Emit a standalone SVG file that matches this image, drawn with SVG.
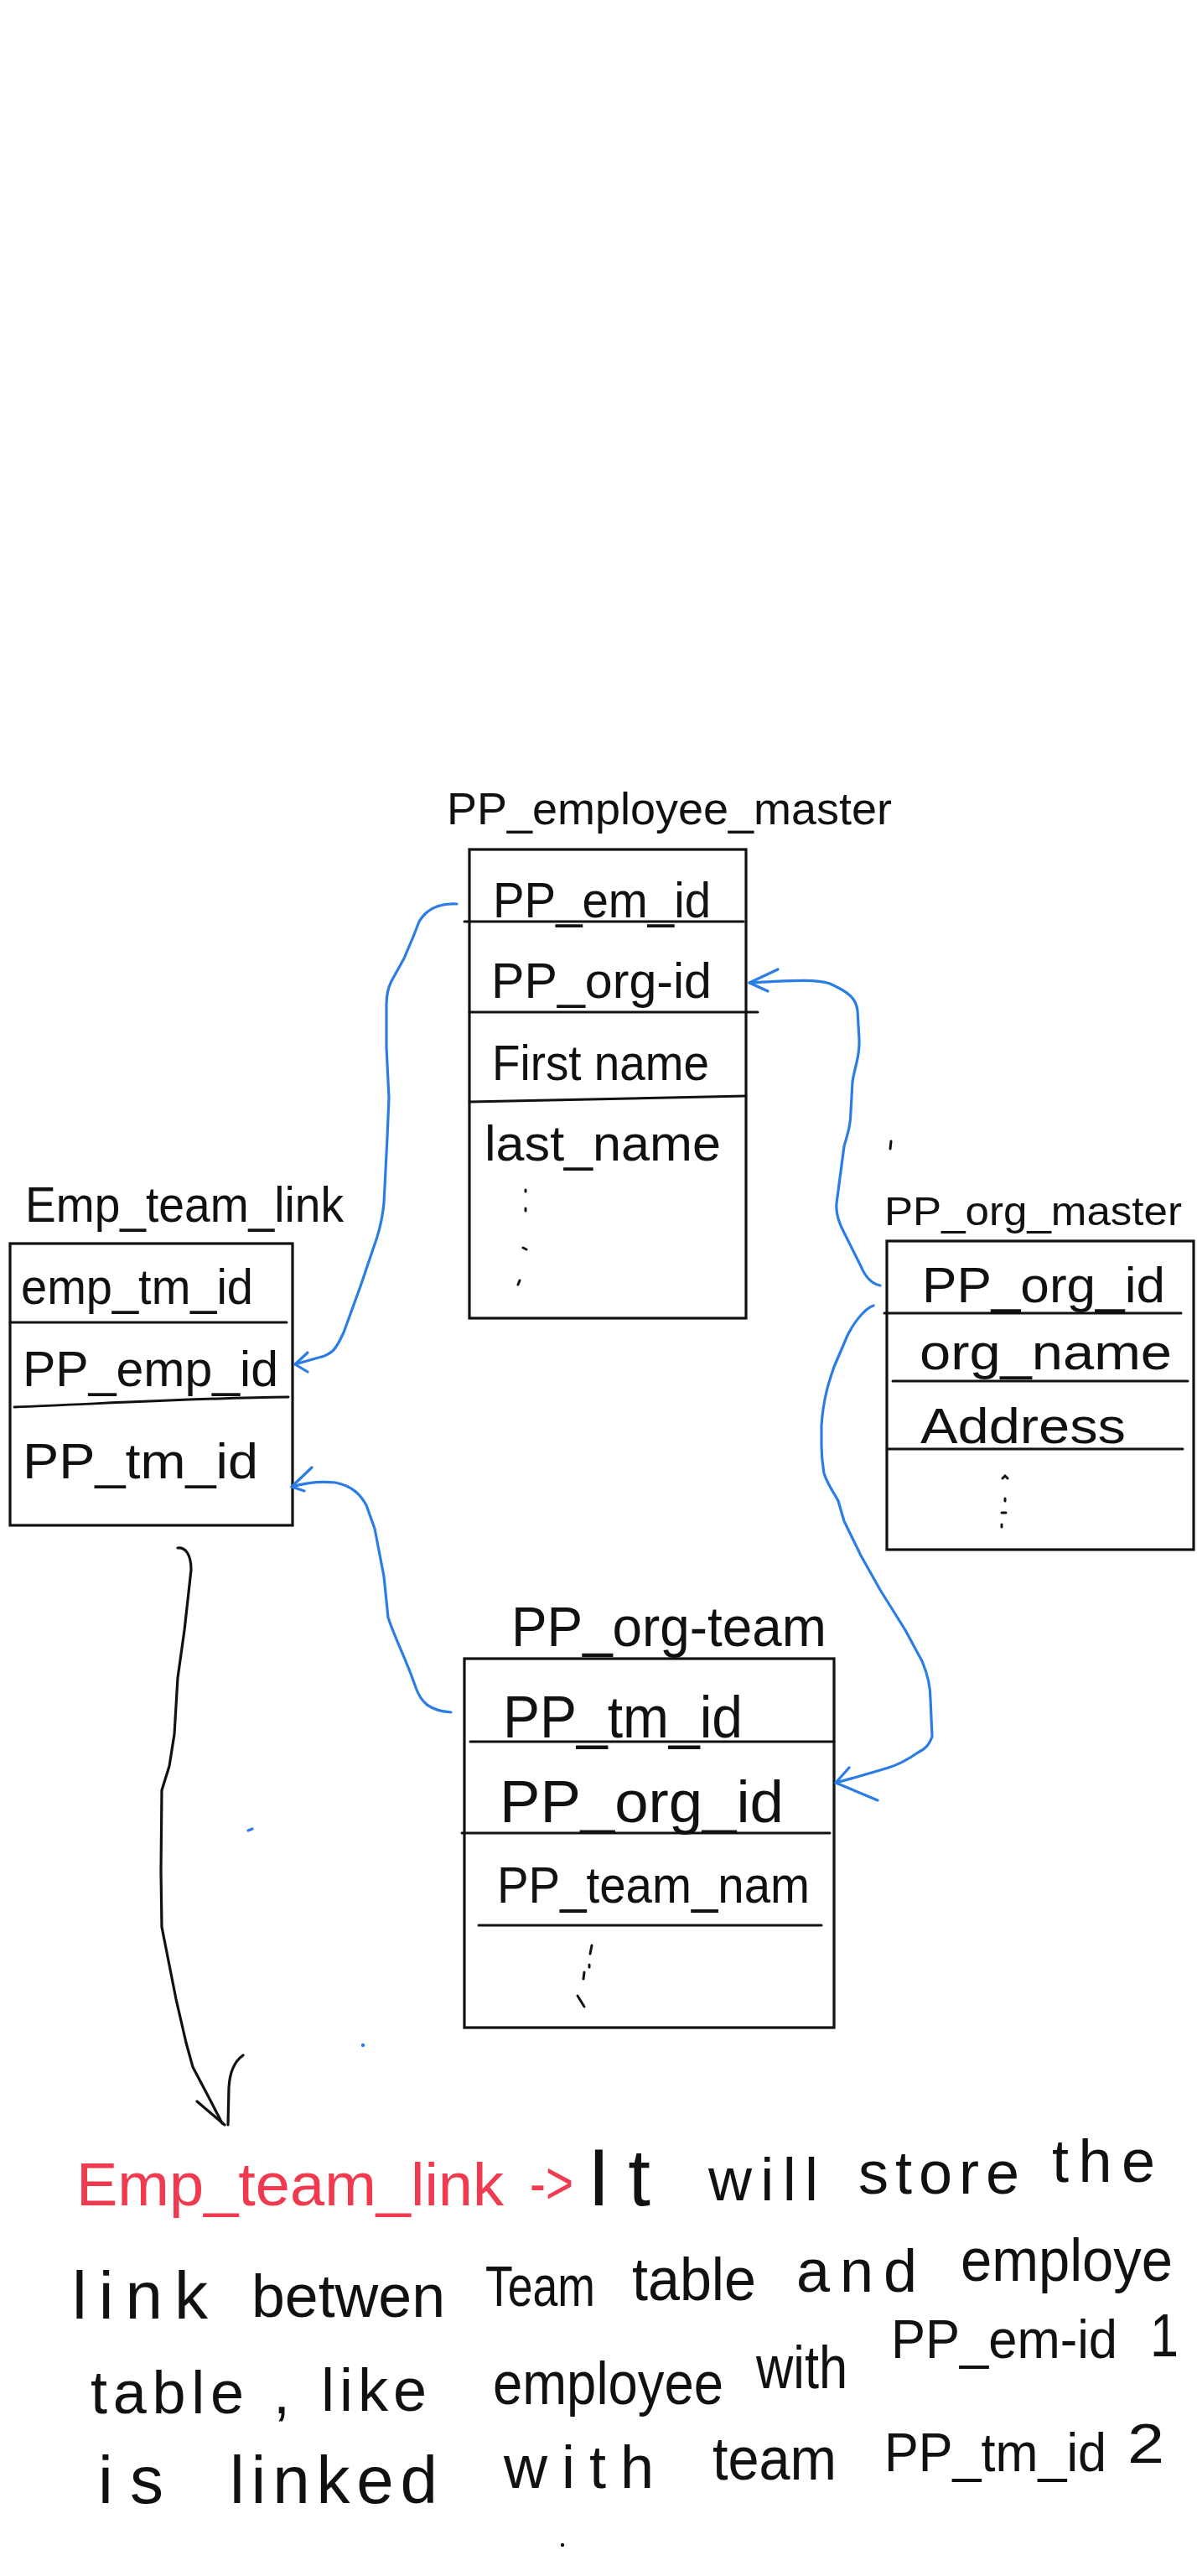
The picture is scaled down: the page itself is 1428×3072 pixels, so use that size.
<svg xmlns="http://www.w3.org/2000/svg" width="1428" height="3072" viewBox="0 0 1428 3072">
<style>
.bg{fill:#ffffff}
.box{fill:none;stroke:#111;stroke-width:3.2;stroke-linejoin:miter}
.sep{fill:none;stroke:#111;stroke-width:3;stroke-linecap:round}
.t{font-family:"Liberation Sans",Arial,sans-serif;fill:#111;font-weight:normal}
.fld{font-size:60px}
.big{font-size:70px}
.par{font-size:72px}
.red{fill:#f03a4f}
.dot{fill:none;stroke:#111;stroke-width:3;stroke-linecap:round}
.blue{fill:none;stroke:#2b7de6;stroke-width:3.2;stroke-linecap:round;stroke-linejoin:round}
.ink{fill:none;stroke:#111;stroke-width:3.2;stroke-linecap:round;stroke-linejoin:round}
</style>
<rect class="bg" x="0" y="0" width="1428" height="3072"/>

<g id="pp_employee_master">
  <text class="t" font-size="54" x="533" y="983" textLength="531" lengthAdjust="spacingAndGlyphs">PP_employee_master</text>
  <rect class="box" x="560" y="1013" width="330" height="559"/>
  <path class="sep" d="M554,1099 L887,1099"/>
  <path class="sep" d="M560,1207 L904,1207"/>
  <path class="sep" d="M560,1314 C700,1311 800,1308 890,1307"/>
  <text class="t fld" x="588" y="1094" textLength="260" lengthAdjust="spacingAndGlyphs">PP_em_id</text>
  <text class="t fld" x="586" y="1190" textLength="263" lengthAdjust="spacingAndGlyphs">PP_org-id</text>
  <text class="t fld" x="587" y="1288" textLength="259" lengthAdjust="spacingAndGlyphs">First name</text>
  <text class="t fld" x="578" y="1384" textLength="282" lengthAdjust="spacingAndGlyphs">last_name</text>
  <path class="dot" d="M627,1419 L627,1421 M627,1441 L627,1444 M624,1488 L628,1490 M620,1527 L618,1532"/>
</g>

<g id="emp_team_link">
  <text class="t" font-size="60" x="30" y="1457" textLength="380" lengthAdjust="spacingAndGlyphs">Emp_team_link</text>
  <rect class="box" x="12" y="1483" width="337" height="336"/>
  <path class="sep" d="M12,1577 L342,1577"/>
  <path class="sep" d="M17,1678 C120,1674 240,1667 344,1666"/>
  <text class="t fld" x="25" y="1555" textLength="277" lengthAdjust="spacingAndGlyphs">emp_tm_id</text>
  <text class="t fld" x="27" y="1653" textLength="305" lengthAdjust="spacingAndGlyphs">PP_emp_id</text>
  <text class="t fld" x="27" y="1763" textLength="281" lengthAdjust="spacingAndGlyphs">PP_tm_id</text>
</g>

<g id="pp_org_master">
  <text class="t" font-size="48" x="1055" y="1461" textLength="355" lengthAdjust="spacingAndGlyphs">PP_org_master</text>
  <rect class="box" x="1058" y="1480" width="366" height="368"/>
  <path class="sep" d="M1055,1566 L1409,1566"/>
  <path class="sep" d="M1065,1647 L1417,1647"/>
  <path class="sep" d="M1059,1728 L1411,1728"/>
  <text class="t fld" x="1100" y="1553" textLength="290" lengthAdjust="spacingAndGlyphs">PP_org_id</text>
  <text class="t fld" x="1097" y="1633" textLength="301" lengthAdjust="spacingAndGlyphs">org_name</text>
  <text class="t fld" x="1098" y="1721" textLength="245" lengthAdjust="spacingAndGlyphs">Address</text>
  <path class="dot" d="M1196,1763 L1199,1760 L1202,1763 M1199,1787 L1199,1790 M1195,1804 L1200,1804 M1195,1818 L1195,1821"/>
</g>

<g id="pp_org_team">
  <text class="t" font-size="66" x="610" y="1963" textLength="376" lengthAdjust="spacingAndGlyphs">PP_org-team</text>
  <rect class="box" x="554" y="1978" width="441" height="440"/>
  <path class="sep" d="M561,2077 L995,2077"/>
  <path class="sep" d="M551,2186 L990,2186"/>
  <path class="sep" d="M571,2296 L980,2296"/>
  <text class="t big" x="600" y="2072" textLength="286" lengthAdjust="spacingAndGlyphs">PP_tm_id</text>
  <text class="t big" x="596" y="2173" textLength="339" lengthAdjust="spacingAndGlyphs">PP_org_id</text>
  <text class="t" font-size="62" x="593" y="2269" textLength="373" lengthAdjust="spacingAndGlyphs">PP_team_nam</text>
  <path class="dot" d="M706,2320 L704,2330 M703,2343 L703,2346 M697,2352 L696,2360 M689,2380 L697,2393"/>
</g>

<g id="connectors">
  <path class="blue" d="M545,1078 C527,1077 510,1082 500,1099 L493,1117 L482,1143 L467,1170 C462,1180 461,1190 461,1198 L461,1249 L464,1309 L462,1356 L458,1435 C456,1455 453,1465 450,1475 L430,1534 L410,1589 C405,1600 400,1608 397,1611 C390,1617 385,1618 380,1619 L352,1627"/>
  <path class="blue" d="M367,1613 L352,1627 L367,1636"/>
  <path class="blue" d="M348,1773 C365,1768 380,1766 400,1768 C420,1772 430,1782 437,1795 L447,1823 L458,1880 L463,1929 C470,1950 482,1975 490,1996 L497,2015 C503,2030 512,2040 538,2042"/>
  <path class="blue" d="M372,1750 L348,1773 L363,1778"/>
  <path class="blue" d="M1050,1533 C1040,1531 1032,1522 1027,1510 L1007,1470 C999,1455 997,1445 998,1435 L1007,1367 C1012,1350 1015,1340 1015,1325 L1017,1290 C1020,1270 1026,1260 1025,1240 L1023,1205 C1021,1190 1012,1183 990,1173 C970,1167 940,1170 894,1172"/>
  <path class="blue" d="M928,1156 L894,1172 L916,1182"/>
  <path class="blue" d="M1042,1557 C1032,1560 1015,1580 1007,1602 L995,1630 C988,1650 982,1670 980,1700 L980,1724 C980,1740 982,1750 983,1757 C988,1772 995,1780 1000,1790 L1007,1814 L1027,1855 L1050,1896 L1080,1944 L1100,1981 C1108,2000 1110,2015 1110,2026 L1112,2071 C1108,2082 1103,2086 1095,2090 C1085,2097 1073,2104 1060,2108 C1040,2114 1020,2120 997,2126"/>
  <path class="blue" d="M1013,2108 L997,2126 L1047,2147"/>
  <path class="ink" d="M212,1846 C220,1845 228,1852 228,1872 L220,1944 L212,2001 L208,2068 L202,2106 L193,2135 L192,2231 L193,2298 L210,2384 L222,2436 L230,2465 L250,2503 L265,2532"/>
  <path class="ink" d="M235,2506 L268,2534 M290,2451 C280,2458 274,2470 273,2490 L272,2534"/>
</g>

<g id="marks">
  <path class="dot" d="M1063,1361 L1062,1370"/>
  <path class="blue" d="M296,2183 L301,2181"/>
  <circle cx="433" cy="2439" r="2.2" fill="#2b7de6"/>
  <circle cx="671" cy="3035" r="2.2" fill="#111"/>
</g>

<g id="note">
  <text class="t par red" x="91" y="2630" textLength="510" lengthAdjust="spacingAndGlyphs">Emp_team_link</text>
  <text class="t par red" x="632" y="2628" textLength="52" lengthAdjust="spacingAndGlyphs">-&gt;</text>
  <text class="t" font-size="96" x="701" y="2630" textLength="75" lengthAdjust="spacing">It</text>
  <text class="t par" x="845" y="2624" textLength="131" lengthAdjust="spacing">will</text>
  <text class="t par" x="1024" y="2616" textLength="192" lengthAdjust="spacing">store</text>
  <text class="t par" x="1255" y="2602" textLength="123" lengthAdjust="spacing">the</text>

  <text class="t" font-size="80" x="86" y="2765" textLength="162" lengthAdjust="spacing">link</text>
  <text class="t par" x="300" y="2763" textLength="231" lengthAdjust="spacingAndGlyphs">betwen</text>
  <text class="t" font-size="68" x="579" y="2750" textLength="131" lengthAdjust="spacingAndGlyphs">Team</text>
  <text class="t par" x="754" y="2743" textLength="148" lengthAdjust="spacingAndGlyphs">table</text>
  <text class="t par" x="950" y="2733" textLength="144" lengthAdjust="spacing">and</text>
  <text class="t par" x="1146" y="2720" textLength="253" lengthAdjust="spacingAndGlyphs">employe</text>

  <text class="t par" x="108" y="2878" textLength="183" lengthAdjust="spacing">table</text>
  <text class="t par" x="326" y="2878">,</text>
  <text class="t par" x="383" y="2875" textLength="126" lengthAdjust="spacing">like</text>
  <text class="t par" x="588" y="2867" textLength="275" lengthAdjust="spacingAndGlyphs">employee</text>
  <text class="t par" x="902" y="2848" textLength="109" lengthAdjust="spacingAndGlyphs">with</text>
  <text class="t" font-size="64" x="1063" y="2812" textLength="270" lengthAdjust="spacingAndGlyphs">PP_em-id</text>
  <text class="t par" x="1372" y="2810" textLength="34" lengthAdjust="spacingAndGlyphs">1</text>

  <text class="t" font-size="80" x="117" y="2985" textLength="78" lengthAdjust="spacing">is</text>
  <text class="t" font-size="80" x="274" y="2985" textLength="248" lengthAdjust="spacing">linked</text>
  <text class="t par" x="601" y="2967" textLength="179" lengthAdjust="spacing">with</text>
  <text class="t par" x="850" y="2957" textLength="148" lengthAdjust="spacingAndGlyphs">team</text>
  <text class="t" font-size="64" x="1055" y="2947" textLength="265" lengthAdjust="spacingAndGlyphs">PP_tm_id</text>
  <text class="t" font-size="66" x="1345" y="2937" textLength="44" lengthAdjust="spacingAndGlyphs">2</text>
</g>
</svg>
